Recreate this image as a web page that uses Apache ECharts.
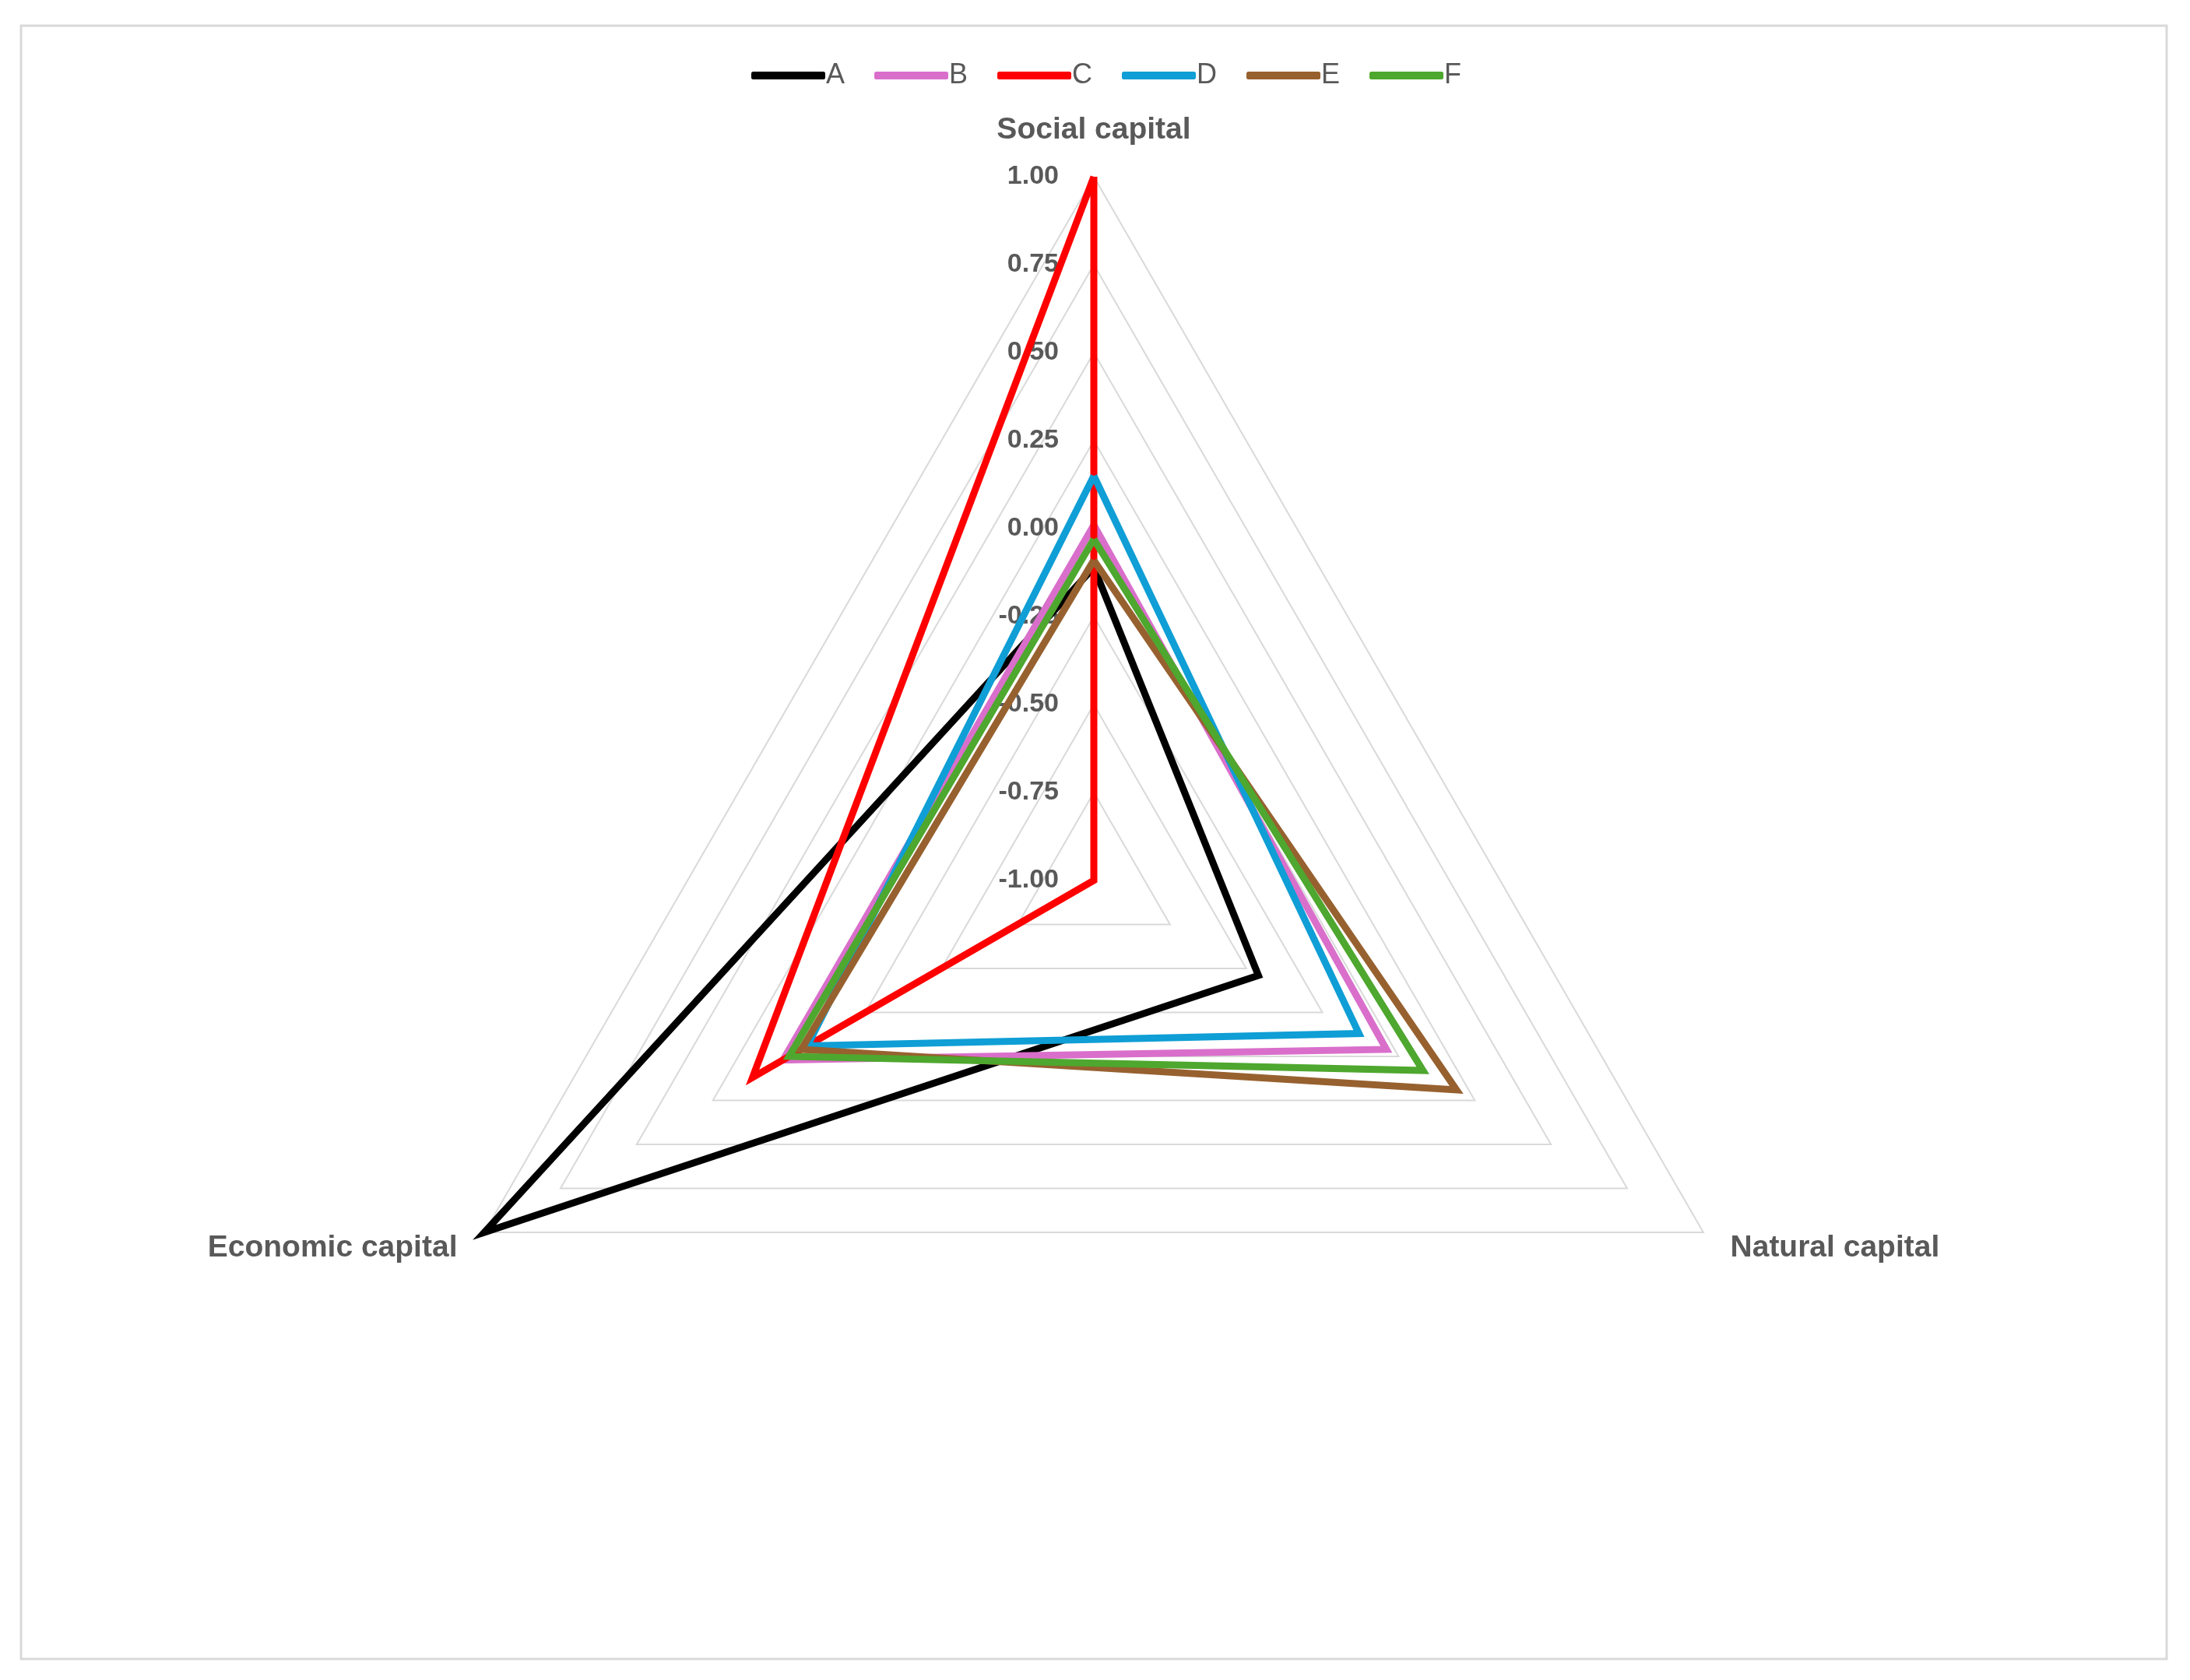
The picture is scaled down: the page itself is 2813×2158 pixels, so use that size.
<!DOCTYPE html>
<html>
<head>
<meta charset="utf-8">
<script src="https://cdn.jsdelivr.net/npm/echarts@6/dist/echarts.min.js"></script>
<style>
  html, body { margin: 0; padding: 0; background: #fff; }
  #radarChart { width: 2813px; height: 2158px; }
</style>
</head>
<body>
<div id="radarChart"></div>
<script>
// 指标（三个顶点）
var indicatorNames = ['Social capital', 'Economic capital', 'Natural capital'];
var seriesNames = ['A', 'B', 'C', 'D', 'E', 'F'];
var seriesColors = ['#000000', '#D96FCB', '#FF0000', '#0F9ED5', '#97612F', '#4EA72E'];

// 每组数值，顺序同 indicatorNames
var valuesA = [-0.11, 1.00, -0.46];
var valuesB = [0.01, 0.02, -0.04];
var valuesC = [1.00, 0.12, -1.00];
var valuesD = [0.15, -0.06, -0.13];
var valuesE = [-0.09, -0.04, 0.19];
var valuesF = [-0.03, 0.00, 0.08];
var allValues = [valuesA, valuesB, valuesC, valuesD, valuesE, valuesF];

var axisMin = -1;
var axisMax = 1;
var splitCount = 8;

var fontName = '"Liberation Sans", Arial, sans-serif';

var indicators = indicatorNames.map(function (n, i) {
	var ind = { name: n, min: axisMin, max: axisMax };
	if (i == 0) {
		// 只在第一条轴上显示刻度
		ind.axisLabel = {
			show: true,
			margin: 45,
			color: '#595959',
			fontSize: 34,
			fontWeight: 'bold',
			fontFamily: fontName,
			padding: [10, 0, 0, 0],
			formatter: function (v) { return Number(v).toFixed(2); }
		};
	}
	return ind;
});

var radarData = seriesNames.map(function (n, i) {
	return {
		name: n,
		value: allValues[i],
		itemStyle: { color: seriesColors[i] },
		lineStyle: { color: seriesColors[i], width: 9, join: 'miter', miterLimit: 20 }
	};
});

var myChart = echarts.init(document.getElementById('radarChart'));
myChart.setOption({
	backgroundColor: '#ffffff',
	animation: false,
	graphic: [{
		type: 'rect',
		shape: { x: 27, y: 33, width: 2756, height: 2098 },
		style: { fill: 'none', stroke: '#d9d9d9', lineWidth: 3 },
		silent: true
	}],
	legend: {
		data: seriesNames,
		left: 960,
		top: 74,
		icon: 'roundRect',
		itemWidth: 95,
		itemHeight: 10,
		itemGap: 38,
		textStyle: { color: '#595959', fontSize: 36, fontFamily: fontName, padding: [0, 0, 0, -4] }
	},
	radar: {
		center: [1405, 1131],
		radius: 904,
		startAngle: 90,
		shape: 'polygon',
		splitNumber: splitCount,
		indicator: indicators,
		nameGap: 40,
		axisName: {
			color: '#595959',
			fontSize: 39,
			fontWeight: 'bold',
			fontFamily: fontName
		},
		axisLine: { show: false },
		axisTick: { show: false },
		axisLabel: { show: false },
		splitLine: { lineStyle: { color: '#d9d9d9', width: 2 } },
		splitArea: { show: false }
	},
	series: [{
		type: 'radar',
		symbol: 'none',
		data: radarData
	}]
});
</script>
</body>
</html>
